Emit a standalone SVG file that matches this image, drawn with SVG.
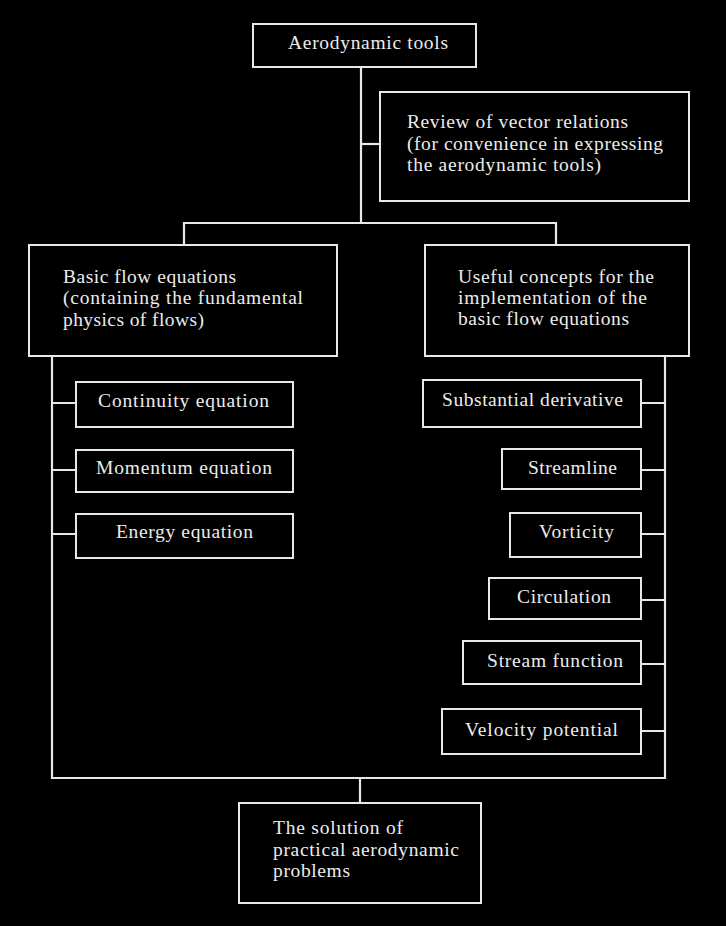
<svg xmlns="http://www.w3.org/2000/svg" width="726" height="926" viewBox="0 0 726 926">
<style>
.box{fill:#000;stroke:#e8e8e8;stroke-width:2}
.con{fill:none;stroke:#e8e8e8;stroke-width:2.2}
text{font-family:"Liberation Serif","Times New Roman",serif;fill:#ececec}
.s{font-size:19.5px}
.m{font-size:19.5px}
</style>
<rect width="726" height="926" fill="#000"/>
<g id="connectors">
<path class="con" d="M361 67 V223"/>
<path class="con" d="M361 144 H380"/>
<path class="con" d="M184 245 V223 H556 V245"/>
<path class="con" d="M52 356 V778 H665 V356"/>
<path class="con" d="M52 403 H76 M52 470 H76 M52 534 H76"/>
<path class="con" d="M641 403 H665 M641 470 H665 M641 534 H665 M641 600 H665 M641 664 H665 M641 731 H665"/>
<path class="con" d="M360 778 V803"/>
</g>
<g id="aero">
<rect class="box" x="253" y="24" width="223" height="43"/>
<text class="s" x="288" y="49" textLength="160" lengthAdjust="spacing">Aerodynamic tools</text>
</g>
<g id="review">
<rect class="box" x="380" y="92" width="309" height="109"/>
<text class="m" x="407" y="127.5" textLength="221" lengthAdjust="spacing">Review of vector relations</text>
<text class="m" x="407" y="149.5" textLength="256" lengthAdjust="spacing">(for convenience in expressing</text>
<text class="m" x="407" y="171" textLength="194" lengthAdjust="spacing">the aerodynamic tools)</text>
</g>
<g id="basic">
<rect class="box" x="29" y="245" width="308" height="111"/>
<text class="m" x="63" y="282.5" textLength="173" lengthAdjust="spacing">Basic flow equations</text>
<text class="m" x="63" y="304" textLength="240" lengthAdjust="spacing">(containing the fundamental</text>
<text class="m" x="63" y="325.5" textLength="141" lengthAdjust="spacing">physics of flows)</text>
</g>
<g id="useful">
<rect class="box" x="425" y="245" width="264" height="111"/>
<text class="m" x="458" y="282.5" textLength="196" lengthAdjust="spacing">Useful concepts for the</text>
<text class="m" x="458" y="304" textLength="189" lengthAdjust="spacing">implementation of the</text>
<text class="m" x="458" y="325" textLength="171" lengthAdjust="spacing">basic flow equations</text>
</g>
<g id="continuity">
<rect class="box" x="76" y="382" width="217" height="45"/>
<text class="s" x="98" y="407" textLength="171" lengthAdjust="spacing">Continuity equation</text>
</g>
<g id="momentum">
<rect class="box" x="76" y="450" width="217" height="42"/>
<text class="s" x="96" y="474" textLength="176" lengthAdjust="spacing">Momentum equation</text>
</g>
<g id="energy">
<rect class="box" x="76" y="514" width="217" height="44"/>
<text class="s" x="116" y="538" textLength="137" lengthAdjust="spacing">Energy equation</text>
</g>
<g id="substantial">
<rect class="box" x="423" y="380" width="218" height="47"/>
<text class="s" x="442" y="406" textLength="181" lengthAdjust="spacing">Substantial derivative</text>
</g>
<g id="streamline">
<rect class="box" x="502" y="449" width="139" height="40"/>
<text class="s" x="528" y="474" textLength="89" lengthAdjust="spacing">Streamline</text>
</g>
<g id="vorticity">
<rect class="box" x="510" y="513" width="131" height="44"/>
<text class="s" x="539" y="538" textLength="75" lengthAdjust="spacing">Vorticity</text>
</g>
<g id="circulation">
<rect class="box" x="489" y="578" width="152" height="41"/>
<text class="s" x="517" y="603" textLength="94" lengthAdjust="spacing">Circulation</text>
</g>
<g id="streamfunction">
<rect class="box" x="463" y="641" width="178" height="43"/>
<text class="s" x="487" y="667" textLength="136" lengthAdjust="spacing">Stream function</text>
</g>
<g id="velocitypotential">
<rect class="box" x="442" y="709" width="199" height="45"/>
<text class="s" x="465" y="736" textLength="153" lengthAdjust="spacing">Velocity potential</text>
</g>
<g id="solution">
<rect class="box" x="239" y="803" width="242" height="100"/>
<text class="m" x="273" y="834" textLength="130" lengthAdjust="spacing">The solution of</text>
<text class="m" x="273" y="856" textLength="186" lengthAdjust="spacing">practical aerodynamic</text>
<text class="m" x="273" y="877" textLength="77" lengthAdjust="spacing">problems</text>
</g>
</svg>
